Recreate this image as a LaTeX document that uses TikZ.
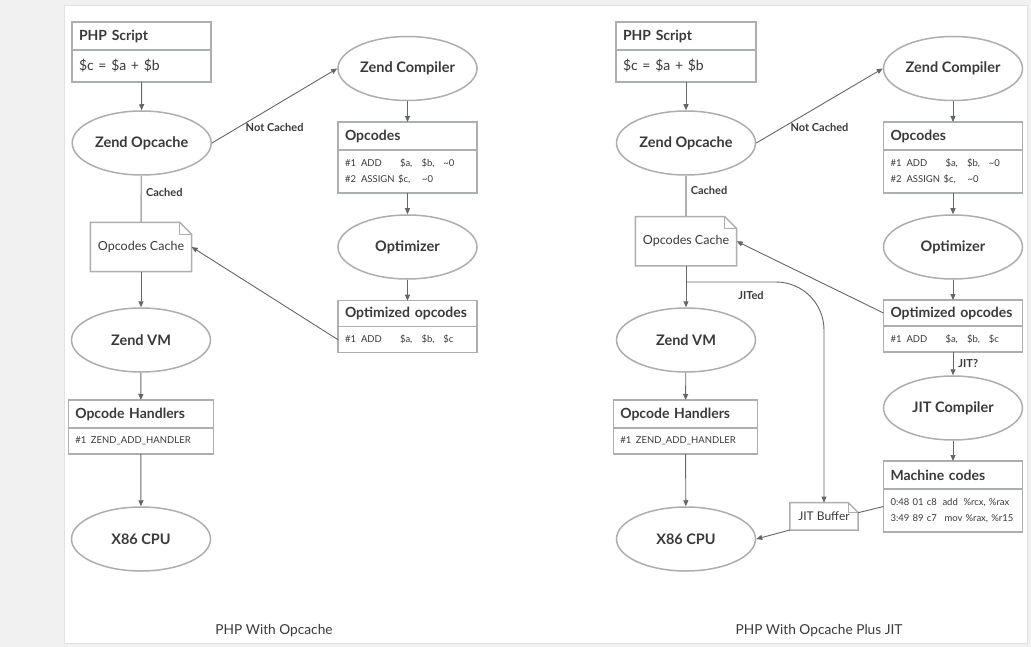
\documentclass[tikz,border=0pt]{standalone}
\usepackage{fontspec}
\setmainfont{Lato}
\usepackage{tikz}
\usetikzlibrary{arrows.meta,positioning,shapes.geometric}
\usepackage{xcolor}
\definecolor{phpline}{HTML}{666666}
\definecolor{phpframe}{HTML}{ABAFAF}
\definecolor{phptext}{HTML}{3A3A3A}
\definecolor{phpback}{HTML}{F1F1F1}
\definecolor{phpedge}{HTML}{E2E2E2}
\newcommand{\cell}[2]{\makebox[#1][l]{#2}}
% folded-corner outline round a note node
\newcommand{\dogear}[2]{%
  \draw[link] (#1.south west) -- (#1.north west) -- ([xshift=-#2]#1.north east)
    -- ([yshift=-#2]#1.north east) -- (#1.south east) -- cycle;
  \draw[link, line width=1pt] ([xshift=-#2]#1.north east) |- ([yshift=-#2]#1.north east);}

\begin{document}
\begin{tikzpicture}[
  x=1pt, y=-1pt,
  oval/.style={ellipse, draw=phpframe, line width=1.5pt, minimum width=139pt, minimum height=64pt, inner sep=0pt, text=phptext, font=\bfseries\fontsize{14.5}{17}\selectfont},
  head/.style={draw=phpframe, line width=1.5pt, outer sep=0pt, minimum height=28pt, text width=125pt, inner xsep=7pt, inner ysep=0pt, align=left, text=phptext, font=\bfseries\fontsize{14}{17}\selectfont},
  body/.style={head, font=\fontsize{14}{17}\selectfont},
  code/.style={head, font=\fontsize{9.5}{16.5}\selectfont},
  note/.style={minimum width=101pt, minimum height=49pt, inner sep=0pt, text=phptext, font=\fontsize{12.5}{15}\selectfont},
  arrow/.style={-{Triangle[length=6pt, width=5pt]}, draw=phpline, line width=0.9pt},
  link/.style={draw=phpframe, line width=1.5pt},
  tag/.style={text=phptext, font=\bfseries\fontsize{11}{13}\selectfont, inner sep=1pt},
  caption/.style={text=phptext, font=\fontsize{13.7}{16}\selectfont}
]
\useasboundingbox (0,0) rectangle (1031,647);
\fill[phpback] (0,0) rectangle (1031,647);
\filldraw[fill=white, draw=phpedge, line width=0.8pt] (64,5) rectangle (1027,643);

% PHP With Opcache
\node[head] (lscript) at (141.5,36) {PHP Script};
\node[body, minimum height=32pt, below=0pt of lscript] (lscriptb) {\$c = \$a + \$b};
\node[oval] (lopcache) at (141.7,143) {Zend Opcache};
\node[oval] (lcompiler) at (407.5,68.5) {Zend Compiler};
\node[head] (lopcodes) at (407.5,136) {Opcodes};
\node[code, minimum height=43pt, below=0pt of lopcodes] (lopcodesb)
  {\cell{16pt}{\#1}\cell{39pt}{ADD}\cell{21.6pt}{\$a,}\cell{21.7pt}{\$b,}\textasciitilde0\\
   \cell{16pt}{\#2}\cell{37pt}{ASSIGN}\cell{24pt}{\$c,}\textasciitilde0};
\node[note] (lcache) at (141,247) {Opcodes Cache};
\node[oval] (loptimizer) at (407.5,247) {Optimizer};
\node[head, minimum height=26pt] (lopt) at (407.5,313.7) {Optimized opcodes};
\node[code, minimum height=26pt, below=0pt of lopt] (loptb)
  {\cell{16pt}{\#1}\cell{39pt}{ADD}\cell{21.6pt}{\$a,}\cell{21.7pt}{\$b,}\$c};
\node[oval] (lvm) at (141,340) {Zend VM};
\node[head, text width=131pt] (lhandlers) at (140.8,414) {Opcode Handlers};
\node[code, text width=131pt, minimum height=26pt, below=0pt of lhandlers] (lhandlersb)
  {\cell{15.6pt}{\#1}ZEND\_ADD\_HANDLER};
\node[oval] (lcpu) at (141,539) {X86 CPU};
\dogear{lcache}{12pt}

\draw[arrow] (lscriptb) -- (lopcache);
\draw[arrow] (lopcache.east) -- node[tag, yshift=-22pt] {Not Cached} (lcompiler.west);
\draw[link] (lopcache) -- node[tag, pos=0.36, right=3pt] {Cached} (lcache.north);
\draw[arrow] (lcache) -- (lvm);
\draw[arrow] (lvm) -- (lhandlers);
\draw[arrow] (lhandlersb) -- (lcpu);
\draw[arrow] (lcompiler) -- (lopcodes);
\draw[arrow] (lopcodesb) -- (loptimizer);
\draw[arrow] (loptimizer) -- (lopt);
\draw[arrow] (loptb.west) -- (lcache.east);

% PHP With Opcache Plus JIT
\node[head, text width=126pt] (rscript) at (686,36) {PHP Script};
\node[body, text width=126pt, minimum height=32pt, below=0pt of rscript] (rscriptb) {\$c = \$a + \$b};
\node[oval] (ropcache) at (686,143) {Zend Opcache};
\node[oval] (rcompiler) at (953,68.5) {Zend Compiler};
\node[head] (ropcodes) at (953,136) {Opcodes};
\node[code, minimum height=43pt, below=0pt of ropcodes] (ropcodesb)
  {\cell{16pt}{\#1}\cell{39pt}{ADD}\cell{21.6pt}{\$a,}\cell{21.7pt}{\$b,}\textasciitilde0\\
   \cell{16pt}{\#2}\cell{37pt}{ASSIGN}\cell{24pt}{\$c,}\textasciitilde0};
\node[note] (rcache) at (686,241.3) {Opcodes Cache};
\node[oval] (roptimizer) at (953,247) {Optimizer};
\node[head, minimum height=26pt] (ropt) at (953,313) {Optimized opcodes};
\node[code, minimum height=26pt, below=0pt of ropt] (roptb)
  {\cell{16pt}{\#1}\cell{39pt}{ADD}\cell{21.6pt}{\$a,}\cell{21.7pt}{\$b,}\$c};
\node[oval] (rvm) at (686,340) {Zend VM};
\node[head, text width=130.4pt] (rhandlers) at (685.5,414) {Opcode Handlers};
\node[code, text width=130.4pt, minimum height=26pt, below=0pt of rhandlers] (rhandlersb)
  {\cell{15.6pt}{\#1}ZEND\_ADD\_HANDLER};
\node[oval] (rjitc) at (953,408) {JIT Compiler};
\node[head] (rmachine) at (953,475) {Machine codes};
\node[code, minimum height=43pt, below=0pt of rmachine] (rmachineb)
  {\cell{52pt}{0:48 01 c8}\cell{21pt}{add}\%rcx, \%rax\\
   \cell{54pt}{3:49 89 c7}\cell{21pt}{mov}\%rax, \%r15};
\node[note, minimum width=68pt, minimum height=27pt, font=\fontsize{12}{14}\selectfont] (rbuffer) at (824,516.3) {JIT Buffer};
\node[oval] (rcpu) at (686,539) {X86 CPU};
\coordinate (rjit) at (686,282);
\dogear{rcache}{12pt}
\dogear{rbuffer}{10pt}

\draw[arrow] (rscriptb) -- (ropcache);
\draw[arrow] (ropcache.east) -- node[tag, yshift=-22pt] {Not Cached} (rcompiler.west);
\draw[link] (ropcache) -- node[tag, pos=0.36, right=3pt] {Cached} (rcache.north);
\draw[arrow] (rcache) -- (rvm);
\draw[arrow] (rvm) -- (rhandlers);
\draw[arrow] (rhandlersb) -- (rcpu);
\draw[arrow] (rcompiler) -- (ropcodes);
\draw[arrow] (ropcodesb) -- (roptimizer);
\draw[arrow] (roptimizer) -- (ropt);
\draw[arrow] (ropt.west) -- (rcache.east);
\draw[arrow] (roptb) -- node[tag, right=4pt] {JIT?} (rjitc);
\draw[arrow] (rjitc) -- (rmachine);
\draw[draw=phpline, line width=0.9pt] ([yshift=4pt]rmachineb.west) -- ([yshift=3.6pt]rbuffer.east);
\draw[arrow] (rbuffer.south west) -- (rcpu.east);
\draw[arrow, rounded corners=48pt] (rjit) -- (rjit -| rbuffer) -- node[tag, pos=0.06, xshift=-73pt] {JITed} (rbuffer.north);

\node[caption] (lcaption) at (274,631) {PHP With Opcache};
\node[caption] (rcaption) at (819,631) {PHP With Opcache Plus JIT};
\end{tikzpicture}
\end{document}
